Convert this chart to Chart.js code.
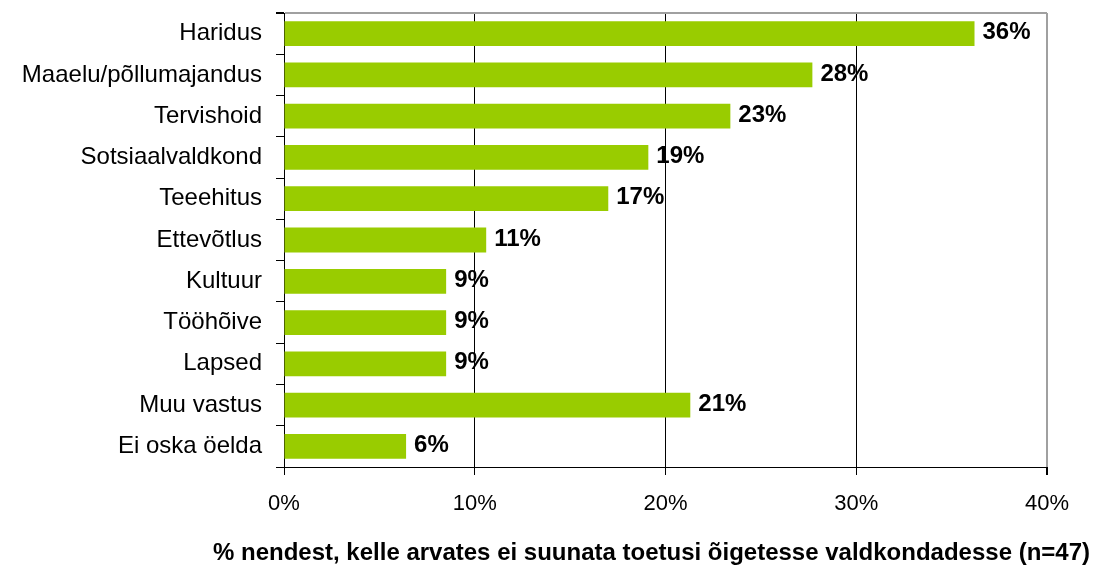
<!DOCTYPE html>
<html lang="et">
<head>
<meta charset="utf-8">
<title>Valdkonnad</title>
<script src="https://cdn.jsdelivr.net/npm/chart.js@4/dist/chart.umd.min.js"></script>
<style>
    html, body { margin: 0; padding: 0; background: #fff; }
    canvas { display: block; }
</style>
</head>
<body>
<canvas id="fieldsChart" width="1093" height="565"></canvas>
<script>
const categories = ['Haridus', 'Maaelu/põllumajandus', 'Tervishoid', 'Sotsiaalvaldkond', 'Teeehitus', 'Ettevõtlus', 'Kultuur', 'Tööhõive', 'Lapsed', 'Muu vastus', 'Ei oska öelda'];
const shares = [36.2, 27.7, 23.4, 19.1, 17.0, 10.6, 8.5, 8.5, 8.5, 21.3, 6.4];
const xTicks = [0, 10, 20, 30, 40];
const footTitle = '% nendest, kelle arvates ei suunata toetusi õigetesse valdkondadesse (n=47)';

const BAR_GREEN = '#99cc00';
const FRAME_GREY = '#a0a0a0';

Chart.defaults.font.family = '"Liberation Sans", Arial, sans-serif';
Chart.defaults.color = '#000';

// percent numbers at the end of each bar
const valueLabels = {
    id: 'valueLabels',
    afterDatasetsDraw(chart) {
        const ctx = chart.ctx;
        const meta = chart.getDatasetMeta(0);
        ctx.save();
        ctx.font = 'bold 24px "Liberation Sans", Arial, sans-serif';
        ctx.fillStyle = '#000';
        ctx.textAlign = 'left';
        ctx.textBaseline = 'middle';
        meta.data.forEach((bar, i) => {
            ctx.fillText(Math.round(shares[i]) + '%', bar.x + 8, bar.y - 1);
        });
        ctx.restore();
    }
};

document.addEventListener('DOMContentLoaded', () => {
    const ctx = document.getElementById('fieldsChart').getContext('2d');
    new Chart(ctx, {
        type: 'bar',
        data: {
            labels: categories,
            datasets: [{
                data: shares,
                backgroundColor: BAR_GREEN,
                borderWidth: 0,
                barPercentage: 0.6,
                categoryPercentage: 1
            }]
        },
        options: {
            indexAxis: 'y',
            responsive: false,
            animation: false,
            layout: { padding: { top: 0, right: 3, left: 0, bottom: 0 } },
            plugins: {
                legend: { display: false },
                tooltip: { enabled: false },
                title: {
                    display: true,
                    text: footTitle,
                    position: 'bottom',
                    align: 'end',
                    color: '#000',
                    font: { size: 24, weight: 'bold', lineHeight: 1 },
                    padding: { top: 12, bottom: 0 }
                }
            },
            scales: {
                x: {
                    type: 'linear',
                    min: 0,
                    max: 40,
                    afterBuildTicks: s => { s.ticks = xTicks.map(v => ({ value: v })); },
                    ticks: { callback: v => v + '%', font: { size: 22 }, padding: 16, maxRotation: 0 },
                    grid: {
                        color: c => c.tick.value === 0 ? 'rgba(0,0,0,0)' : (c.tick.value === 40 ? FRAME_GREY : '#000'),
                        lineWidth: c => c.tick.value === 40 ? 2 : 1,
                        tickColor: '#000',
                        tickLength: 8
                    },
                    border: { color: '#000', width: 1 },
                    afterFit: s => { s.height = 62; }
                },
                y: {
                    type: 'category',
                    ticks: { font: { size: 24 }, padding: 14 },
                    grid: {
                        offset: true,
                        color: c => c.index === 0 ? FRAME_GREY : 'rgba(0,0,0,0)',
                        lineWidth: c => c.index === 0 ? 2 : 1,
                        tickColor: '#000',
                        tickLength: 8
                    },
                    border: { color: '#000', width: 1 },
                    afterFit: s => {
                        s.width = 284;
                        // labels sit inside their bands, so only a small top margin is needed
                        s.paddingTop = 13;
                        s.paddingBottom = 0;
                    }
                },
                yRight: {
                    type: 'category',
                    position: 'right',
                    ticks: { display: false },
                    grid: { display: false, drawTicks: false },
                    border: { display: false },
                    afterFit: s => { s.width = 43; s.paddingTop = 0; s.paddingBottom = 0; }
                }
            }
        },
        plugins: [valueLabels]
    });
});
</script>
</body>
</html>
